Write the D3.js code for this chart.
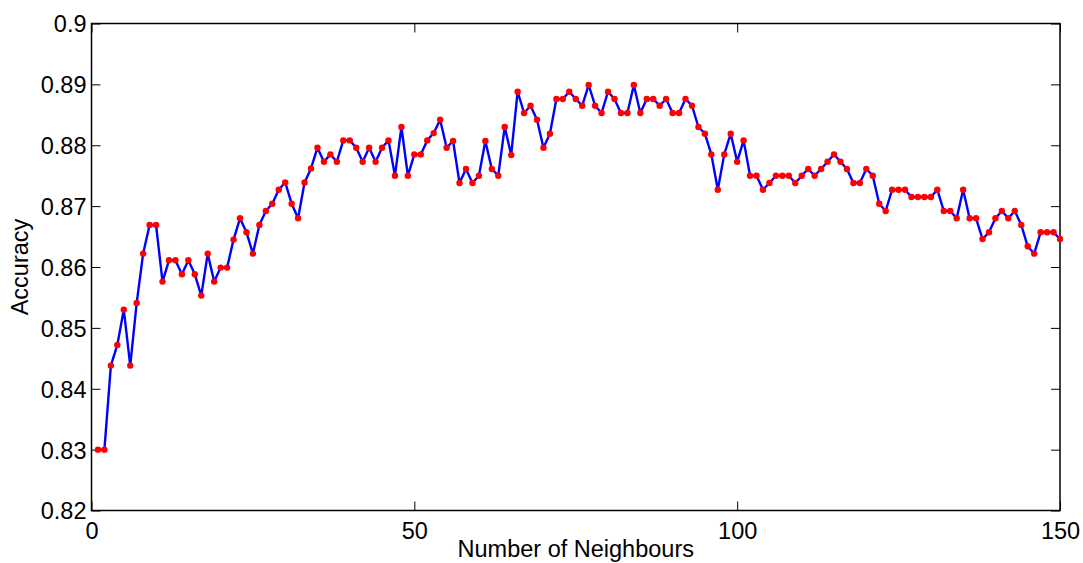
<!DOCTYPE html>
<html>
<head>
<meta charset="utf-8">
<script src="https://cdn.jsdelivr.net/npm/d3@7"></script>
<style>
  html, body { margin: 0; padding: 0; background: #fff; }
  svg { display: block; }
  text { font-family: "Liberation Sans", Arial, Helvetica, sans-serif; fill: #000; }
</style>
</head>
<body>
<svg id="chart" width="1083" height="563"></svg>
<script>
// ---- data ----
const neighbours = d3.range(1, 151);
const accuracy = [
  0.8300, 0.8300, 0.8438, 0.8472, 0.8530, 0.8438, 0.8541, 0.8622, 0.8669, 0.8669,
  0.8576, 0.8611, 0.8611, 0.8588, 0.8611, 0.8588, 0.8553, 0.8622, 0.8576, 0.8599,
  0.8599, 0.8645, 0.8680, 0.8657, 0.8622, 0.8669, 0.8692, 0.8704, 0.8727, 0.8739,
  0.8704, 0.8680, 0.8739, 0.8762, 0.8796, 0.8773, 0.8785, 0.8773, 0.8808, 0.8808,
  0.8796, 0.8773, 0.8796, 0.8773, 0.8796, 0.8808, 0.8750, 0.8830, 0.8750, 0.8785,
  0.8785, 0.8808, 0.8820, 0.8842, 0.8796, 0.8807, 0.8738, 0.8761, 0.8738, 0.8750,
  0.8807, 0.8761, 0.8750, 0.8830, 0.8784, 0.8888, 0.8853, 0.8865, 0.8842, 0.8796,
  0.8819, 0.8876, 0.8876, 0.8888, 0.8876, 0.8865, 0.8899, 0.8865, 0.8853, 0.8888,
  0.8876, 0.8853, 0.8853, 0.8899, 0.8853, 0.8876, 0.8876, 0.8865, 0.8876, 0.8853,
  0.8853, 0.8876, 0.8865, 0.8830, 0.8819, 0.8785, 0.8727, 0.8785, 0.8819, 0.8773,
  0.8808, 0.8750, 0.8750, 0.8727, 0.8738, 0.8750, 0.8750, 0.8750, 0.8738, 0.8750,
  0.8761, 0.8750, 0.8761, 0.8773, 0.8785, 0.8773, 0.8761, 0.8738, 0.8738, 0.8761,
  0.8750, 0.8704, 0.8692, 0.8727, 0.8727, 0.8727, 0.8715, 0.8715, 0.8715, 0.8715,
  0.8727, 0.8692, 0.8692, 0.8680, 0.8727, 0.8680, 0.8680, 0.8646, 0.8657, 0.8680,
  0.8692, 0.8680, 0.8692, 0.8669, 0.8634, 0.8622, 0.8657, 0.8657, 0.8657, 0.8646
];
const xTicks = [0, 50, 100, 150];
const yTicks = [0.82, 0.83, 0.84, 0.85, 0.86, 0.87, 0.88, 0.89, 0.9];
const xLabel = "Number of Neighbours";
const yLabel = "Accuracy";

// ---- layout ----
const mLeft = 91.5, mRight = 1060, mTop = 23.5, mBottom = 510.5;
const svg = d3.select("#chart");
const x = d3.scaleLinear().domain([0, 150]).range([mLeft, mRight]);
const y = d3.scaleLinear().domain([0.82, 0.9]).range([mBottom, mTop]);
const tickLen = 9;
const fontSize = "23.5px";

// axes (ticks pointing inward)
const gx = svg.append("g").attr("transform", `translate(0,${mBottom})`)
  .call(d3.axisBottom(x).tickValues(xTicks).tickFormat(d3.format("d")).tickSize(-tickLen).tickPadding(12));
const gxt = svg.append("g").attr("transform", `translate(0,${mTop})`)
  .call(d3.axisTop(x).tickValues(xTicks).tickFormat("").tickSize(-tickLen));
const gy = svg.append("g").attr("transform", `translate(${mLeft},0)`)
  .call(d3.axisLeft(y).tickValues(yTicks).tickFormat(d => String(+d.toFixed(2))).tickSize(-tickLen).tickPadding(6));
const gyr = svg.append("g").attr("transform", `translate(${mRight},0)`)
  .call(d3.axisRight(y).tickValues(yTicks).tickFormat("").tickSize(-tickLen));

[gx, gxt, gy, gyr].forEach(g => {
  g.select(".domain").remove();
  g.selectAll(".tick line").attr("stroke", "#000").attr("stroke-width", 1);
});
gx.selectAll(".tick text").attr("font-size", fontSize).attr("font-family", "Liberation Sans, Arial, sans-serif").attr("dy", "0.71em");
gy.selectAll(".tick text").attr("font-size", fontSize).attr("font-family", "Liberation Sans, Arial, sans-serif").attr("dy", "0.36em").attr("x", -5);

// box
svg.append("rect")
  .attr("x", mLeft).attr("y", mTop)
  .attr("width", mRight - mLeft).attr("height", mBottom - mTop)
  .attr("fill", "none").attr("stroke", "#000").attr("stroke-width", 1.5);

// line
const pts = neighbours.map((k, i) => [k, accuracy[i]]);
svg.append("path")
  .datum(pts)
  .attr("fill", "none")
  .attr("stroke", "#0000ff")
  .attr("stroke-width", 2.4)
  .attr("stroke-linejoin", "round")
  .attr("d", d3.line().x(d => x(d[0])).y(d => y(d[1])));

// markers
svg.append("g").selectAll("circle")
  .data(pts).join("circle")
  .attr("cx", d => x(d[0])).attr("cy", d => y(d[1]))
  .attr("r", 3.2)
  .attr("fill", "#ff0000");

// axis titles
svg.append("text")
  .attr("x", (mLeft + mRight) / 2).attr("y", 556.5)
  .attr("text-anchor", "middle").attr("font-size", fontSize)
  .text(xLabel);
svg.append("text")
  .attr("transform", `translate(28,${(mTop + mBottom) / 2}) rotate(-90)`)
  .attr("text-anchor", "middle").attr("font-size", fontSize)
  .text(yLabel);
</script>
</body>
</html>
